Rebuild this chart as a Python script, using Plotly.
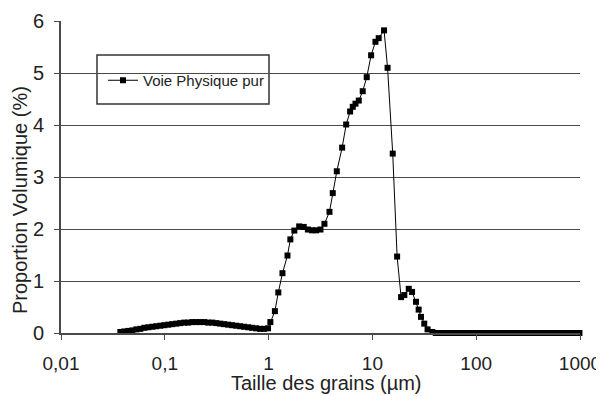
import plotly.graph_objects as go

# ---- data ----
grain_size_um = [
    0.0373, 0.0408, 0.0445, 0.0487, 0.0532, 0.0581, 0.0635, 0.0693, 0.0758, 0.0828,
    0.0905, 0.0988, 0.108, 0.118, 0.129, 0.141, 0.154, 0.168, 0.184, 0.201,
    0.220, 0.240, 0.262, 0.287, 0.313, 0.342, 0.373, 0.408, 0.445, 0.487,
    0.532, 0.581, 0.635, 0.693, 0.758, 0.828, 0.905, 0.988,
    1.04, 1.15, 1.24, 1.36, 1.52, 1.62, 1.77, 1.97, 2.18, 2.39,
    2.61, 2.87, 3.16, 3.45, 3.86, 4.15, 4.54, 5.11, 5.59, 6.10,
    6.47, 6.87, 7.39, 8.07, 8.82, 9.72, 10.7, 11.5, 12.95, 14.0,
    15.7, 17.3, 18.9, 20.3, 22.4, 24.1, 26.3, 27.9, 29.4, 31.6,
    34.0, 37.8,
    40.8, 44.5, 48.7, 53.2, 58.1, 63.5, 69.3, 75.8, 82.8, 90.5,
    98.8, 108, 118, 129, 141, 154, 168, 184, 201, 220,
    240, 262, 287, 313, 342, 373, 408, 445, 487, 532,
    581, 635, 693, 758, 828, 905, 988,
]
volume_pct = [
    0.02, 0.03, 0.04, 0.05, 0.07, 0.08, 0.10, 0.11, 0.12, 0.13,
    0.14, 0.15, 0.16, 0.17, 0.18, 0.19, 0.20, 0.20, 0.21, 0.21,
    0.21, 0.21, 0.20, 0.20, 0.19, 0.18, 0.17, 0.16, 0.15, 0.14,
    0.13, 0.12, 0.11, 0.10, 0.09, 0.08, 0.08, 0.09,
    0.21, 0.42, 0.78, 1.15, 1.49, 1.80, 1.97, 2.05, 2.04, 1.99,
    1.975, 1.975, 1.99, 2.10, 2.33, 2.69, 3.11, 3.565, 4.01, 4.26,
    4.35, 4.41, 4.47, 4.65, 4.92, 5.34, 5.60, 5.67, 5.82, 5.10,
    3.45, 1.47, 0.69, 0.73, 0.85, 0.79, 0.60, 0.45, 0.31, 0.18,
    0.07, 0.02,
    0, 0, 0, 0, 0, 0, 0, 0, 0, 0,
    0, 0, 0, 0, 0, 0, 0, 0, 0, 0,
    0, 0, 0, 0, 0, 0, 0, 0, 0, 0,
    0, 0, 0, 0, 0, 0, 0,
]
assert len(grain_size_um) == len(volume_pct)

series_name = "Voie Physique pur"
x_tick_values = [0.01, 0.1, 1, 10, 100, 1000]
x_tick_labels = ["0,01", "0,1", "1", "10", "100", "1000"]
y_tick_values = [0, 1, 2, 3, 4, 5, 6]
x_title = "Taille des grains (µm)"
y_title = "Proportion Volumique (%)"

# ---- layout constants (page pixels; the page body adds an 8 px offset) ----
OFF = 8
PAGE_W, PAGE_H = 604, 396
W, H = PAGE_W - OFF, PAGE_H - OFF
PLOT_L, PLOT_R, PLOT_T, PLOT_B = 61, 580, 21, 333   # wanted plot box on the page
ML, MR = PLOT_L - OFF, PAGE_W - PLOT_R
MT, MB = PLOT_T - OFF, PAGE_H - PLOT_B
PW, PH = PLOT_R - PLOT_L, PLOT_B - PLOT_T
FONT = "Liberation Sans, Arial, sans-serif"
GRID = "#4a4a4a"
TXT = "#222222"


def px_to_paper_x(px):
    return (px - PLOT_L) / PW


def px_to_paper_y(py):
    return (PLOT_B - py) / PH


fig = go.Figure()
fig.add_trace(go.Scatter(
    x=grain_size_um, y=volume_pct, name=series_name,
    mode="lines+markers",
    line=dict(color="#000000", width=1),
    marker=dict(symbol="square", size=6, color="#000000"),
    cliponaxis=False,
))

fig.update_layout(
    width=W, height=H,
    margin=dict(l=ML, r=MR, t=MT, b=MB, pad=0, autoexpand=False),
    paper_bgcolor="white", plot_bgcolor="white",
    font=dict(family=FONT, size=20, color=TXT),
    showlegend=True,
    legend=dict(
        x=px_to_paper_x(103), y=px_to_paper_y(80.5),
        xanchor="left", yanchor="middle",
        bgcolor="rgba(0,0,0,0)", borderwidth=0,
        font=dict(family=FONT, size=15, color=TXT),
    ),
    xaxis=dict(
        type="log", range=[-2, 3], automargin=False,
        tickvals=x_tick_values, ticktext=x_tick_labels,
        ticks="outside", ticklen=5, tickwidth=1.2, tickcolor=GRID,
        ticklabelstandoff=7,
        showline=True, linecolor=GRID, linewidth=1.5,
        showgrid=False, zeroline=False,
        tickfont=dict(size=19),
    ),
    yaxis=dict(
        range=[0, 6], tickvals=y_tick_values, automargin=False,
        ticks="outside", ticklen=5, tickwidth=1.2, tickcolor=GRID,
        ticklabelstandoff=6,
        showline=True, linecolor=GRID, linewidth=2,
        showgrid=True, gridcolor=GRID, gridwidth=1.3,
        zeroline=False,
        tickfont=dict(size=20),
    ),
    shapes=[dict(
        type="rect", xref="paper", yref="paper",
        x0=px_to_paper_x(97), x1=px_to_paper_x(269),
        y0=px_to_paper_y(104), y1=px_to_paper_y(55),
        line=dict(color="#333333", width=1.5), fillcolor="white", layer="below",
    )],
    annotations=[
        dict(
            text=y_title, textangle=-90, showarrow=False,
            xref="paper", yref="paper",
            x=px_to_paper_x(20), y=px_to_paper_y(200),
            xanchor="center", yanchor="middle",
            font=dict(size=20, color=TXT),
        ),
        dict(
            text=x_title, showarrow=False,
            xref="paper", yref="paper",
            x=px_to_paper_x(325.5), y=px_to_paper_y(396),
            xanchor="center", yanchor="bottom",
            font=dict(size=20, color=TXT),
        ),
    ],
)

fig.write_html("out.html")
